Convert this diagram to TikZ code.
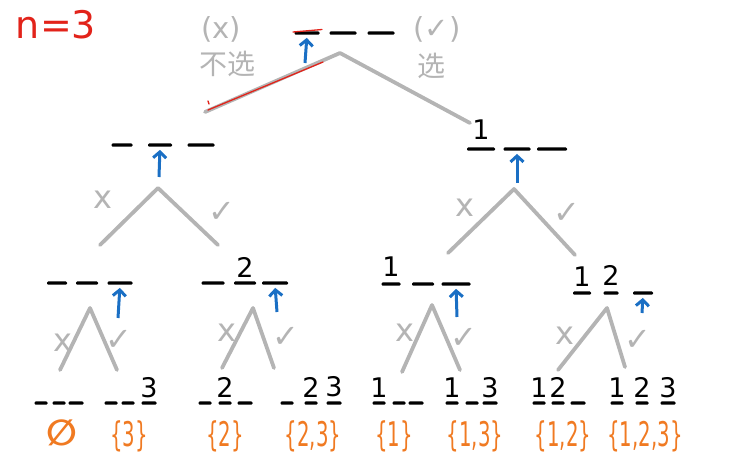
\documentclass[tikz,border=0pt]{standalone}
\usepackage{fontspec}
\setmainfont{DejaVu Sans}
\newfontfamily\cjk{Noto Sans CJK SC}
\newfontfamily\setfont[FakeStretch=0.58]{DejaVu Sans}
\usetikzlibrary{arrows.meta,positioning}
\definecolor{branchGray}{HTML}{B4B4B4}
\definecolor{pointerBlue}{HTML}{1A6FC4}
\definecolor{subsetOrange}{HTML}{F07A22}
\definecolor{noteRed}{HTML}{E2231A}

\tikzset{
  slot/.style={fill=black, inner sep=0pt, minimum height=3.4pt, rounded corners=1.2pt},
  branch/.style={draw=branchGray, line width=3.8pt, line cap=round, line join=round},
  pointer/.style={draw=pointerBlue, line width=3pt, shorten >=3pt,
    -{Straight Barb[length=6pt,width=13pt]}},
  digit/.style={font=\fontsize{27}{27}\selectfont, inner sep=0pt},
  choice/.style={text=branchGray, font=\fontsize{32}{32}\selectfont},
  subset/.style={text=subsetOrange, font=\setfont\fontsize{34}{34}\selectfont},
}

\begin{document}
\begin{tikzpicture}[x=1pt, y=-1pt]
  \useasboundingbox (0,0) rectangle (732,475);

  \node[text=noteRed, font=\fontsize{38}{38}\selectfont] (nval) at (56,25) {n=3};

  % root: nothing chosen yet
  \foreach \n/\x/\w in {1/307/25,2/343/27,3/381/27}
    \node[slot, minimum width=\w pt] (r\n) at (\x,33) {};
  \node[choice, font=\fontsize{29}{29}\selectfont] (rno) at (221,29) {(x)};
  \node[choice, font=\cjk\fontsize{28}{28}\selectfont] (rnotxt) at (227,64) {不选};
  \node[choice, font=\fontsize{29}{29}\selectfont] (ryes) at (437,29) {(✓)};
  \node[choice, font=\cjk\fontsize{28}{28}\selectfont] (ryestxt) at (431,66) {选};
  \coordinate (rtop) at (340,53);
  \coordinate (rl) at (205,112);
  \coordinate (rr) at (470,123);
  \draw[branch] (rl) -- (rtop) -- (rr);
  \coordinate (rarr) at (305,63);
  \draw[pointer] (rarr) -- (r1.south);
  % red marks
  \coordinate (redA) at (208,110);
  \coordinate (redB) at (323,62);
  \draw[noteRed, line width=1.3pt, line cap=round] (redA) -- (redB);
  \draw[noteRed, line width=1.3pt, line cap=round] (208,101) -- (209,104);
  \draw[noteRed, line width=1.3pt, line cap=round] (293,32) -- (322,29.5);

  % level 1, left: 1 not chosen
  \foreach \n/\x/\w in {1/122/21,2/160/24,3/201/27}
    \node[slot, minimum width=\w pt] (a\n) at (\x,145) {};
  \coordinate (atop) at (158,188);
  \draw[branch] (100,245) -- (atop) -- (218,245);
  \node[choice] (ano) at (103,200) {x};
  \node[choice] (ayes) at (222,212) {✓};
  \coordinate (aarr) at (159,177);
  \draw[pointer] (aarr) -- (a2.south);

  % level 1, right: 1 chosen
  \foreach \n/\x/\w in {1/481/28,2/517/27,3/552/30}
    \node[slot, minimum width=\w pt] (b\n) at (\x,149) {};
  \node[digit, above=7pt of b1] (b1d) {1};
  \coordinate (btop) at (514,189);
  \draw[branch] (448,253) -- (btop) -- (575,255);
  \node[choice] (bno) at (465,208) {x};
  \node[choice] (byes) at (567,213) {✓};
  \coordinate (barr) at (517,183);
  \draw[pointer] (barr) -- (b2.south);

  % level 2
  \foreach \n/\x/\w in {1/57/20,2/87/22,3/120/25}
    \node[slot, minimum width=\w pt] (c\n) at (\x,283) {};
  \coordinate (ctop) at (90,308);
  \draw[branch] (60,370) -- (ctop) -- (117,370);
  \node[choice] (cno) at (63,343) {x};
  \node[choice] (cyes) at (119,340) {✓};
  \coordinate (carr) at (118,318);
  \draw[pointer] (carr) -- (c3.south);

  \foreach \n/\x/\w in {1/213/23,2/245/22,3/275/26}
    \node[slot, minimum width=\w pt] (d\n) at (\x,283) {};
  \node[digit, above=3pt of d2] (d2d) {2};
  \coordinate (dtop) at (253,308);
  \draw[branch] (222,368) -- (dtop) -- (274,368);
  \node[choice] (dno) at (227,333) {x};
  \node[choice] (dyes) at (286,337) {✓};
  \coordinate (darr) at (277,312);
  \draw[pointer] (darr) -- (d3.south);

  \foreach \n/\x/\w in {1/391/19,2/423/22,3/456/29}
    \node[slot, minimum width=\w pt] (e\n) at (\x,284) {};
  \node[digit, above=5pt of e1] (e1d) {1};
  \coordinate (etop) at (432,305);
  \draw[branch] (402,372) -- (etop) -- (460,370);
  \node[choice] (eno) at (405,333) {x};
  \node[choice] (eyes) at (464,338) {✓};
  \coordinate (earr) at (457,317);
  \draw[pointer] (earr) -- (e3.south);

  \foreach \n/\x/\w in {1/582/18,2/611/15,3/643/20}
    \node[slot, minimum width=\w pt] (f\n) at (\x,293) {};
  \node[digit, above=4pt of f1] (f1d) {1};
  \node[digit, above=5pt of f2] (f2d) {2};
  \coordinate (ftop) at (607,308);
  \draw[branch] (558,370) -- (ftop) -- (625,367);
  \node[choice] (fno) at (565,336) {x};
  \node[choice] (fyes) at (638,340) {✓};
  \coordinate (farr) at (642,313);
  \draw[pointer] (farr) -- (f3.south);

  % leaves: every subset of {1,2,3}
  \foreach \leaf/\xa/\xb/\xc in {1/41/59/76, 2/111/128/149, 3/205/225/245,
      4/287/311/334, 5/379/399/416, 6/452/472/490, 7/539/558/578, 8/617/642/668}{
    \node[slot, minimum width=13pt] (g\leaf a) at (\xa,403) {};
    \node[slot, minimum width=13pt] (g\leaf b) at (\xb,403) {};
    \node[slot, minimum width=15pt] (g\leaf c) at (\xc,403) {};
  }
  \node[digit, above=3pt of g2c] {3};
  \node[digit, above=3pt of g3b] {2};
  \node[digit, above=3pt of g4b] {2};
  \node[digit, above=4pt of g4c] {3};
  \node[digit, above=3pt of g5a] {1};
  \node[digit, above=3pt of g6a] {1};
  \node[digit, above=3pt of g6c] {3};
  \node[digit, above=3pt of g7a] {1};
  \node[digit, above=3pt of g7b] {2};
  \node[digit, above=3pt of g8a] {1};
  \node[digit, above=3pt of g8b] {2};
  \node[digit, above=3pt of g8c] {3};

  \node[subset, font=\fontsize{36}{36}\selectfont\bfseries] (s1) at (62,433) {∅};
  \node[subset] (s2) at (129,436) {\{3\}};
  \node[subset] (s3) at (225,436) {\{2\}};
  \node[subset] (s4) at (313,436) {\{2,3\}};
  \node[subset] (s5) at (394,436) {\{1\}};
  \node[subset] (s6) at (475,436) {\{1,3\}};
  \node[subset] (s7) at (563,436) {\{1,2\}};
  \node[subset] (s8) at (645,436) {\{1,2,3\}};
\end{tikzpicture}
\end{document}
